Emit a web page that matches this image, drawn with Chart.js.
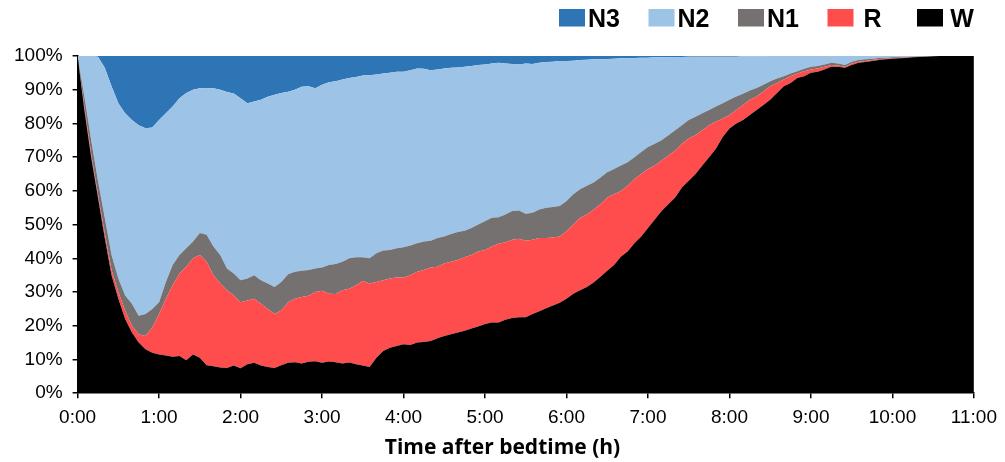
<!DOCTYPE html>
<html>
<head>
<meta charset="utf-8">
<script src="https://cdn.jsdelivr.net/npm/chart.js@4.4.1/dist/chart.umd.min.js"></script>
<style>
  html, body { margin: 0; padding: 0; background: #fff; }
  #wrap { width: 1005px; height: 462px; position: relative; }
</style>
</head>
<body>
<div id="wrap"><canvas id="c" width="1005" height="462"></canvas></div>
<script>
// Time after bedtime, minutes (5-minute bins, 0:00 .. 11:00)
const minutes = Array.from({ length: 133 }, (_, i) => i * 5);
const hourTicks = ['0:00','1:00','2:00','3:00','4:00','5:00','6:00','7:00','8:00','9:00','10:00','11:00'];
const stageNames = ['W', 'R', 'N1', 'N2', 'N3'];
const xTitle = 'Time after bedtime (h)';

// Cumulative levels (%): top edge of W, W+R, W+R+N1, W+R+N1+N2
const wTop = [
  100,84,70,58,46,35,28,22,18,15,13,12,
  11.5,11.2,10.8,11,9.8,11.5,10.5,8.3,8,7.6,7.5,8.2,
  7.4,8.6,9,8.2,7.8,7.5,8.3,9,9.2,8.8,9.3,9.5,
  9,9.4,9.2,8.8,9.1,8.6,8.2,7.8,10.5,12.5,13.5,14,
  14.5,14.3,15,15.2,15.5,16.3,17,17.5,18,18.5,19.2,19.8,
  20.5,21,21,21.8,22.3,22.5,22.5,23.5,24.3,25.2,26,26.8,
  28,29.5,30.5,31.5,32.8,34.5,36.3,38,40.5,42,44.5,46.5,
  49,51.5,54,56,58,61,63,65,67.5,70,72.5,76,
  78.5,80,81,82.5,84,85.5,87,89,91,92,93.5,94,
  95,95.3,96,96.8,96.8,96.5,97.3,98,98.2,98.5,98.8,99,
  99.2,99.3,99.4,99.6,99.7,99.8,99.9,100,100,100,100,100,
  100
];
const rTop = [
  100,85,71,59,47.5,36.5,30,24.5,20,17.5,17,19.5,
  23.5,28,32,35.5,37.5,40,41,39,35,32.5,30.5,29,
  27,27.5,28,26.5,25,23.5,24.5,27,28,28.5,28.9,30,
  30.4,29.5,29.4,30.5,31,32,33.3,32.5,33,33.5,34,34.3,
  34.3,35,36,36.5,37.3,37.5,38.5,39,39.5,40.3,41,42,
  42.5,43.5,44.3,44.8,45.5,45.8,45.2,45.5,46,46,46.2,46.5,
  48,50,52,53,54.5,56,58,59,60,61.5,63.5,65,
  66.5,67.5,69,70.5,72,74,75.5,76.5,78,79.5,80.5,81.5,
  82.5,84,85.5,87,88,89.5,91,92,93,94,94.8,95.5,
  96,96.3,96.8,97.3,97.2,96.8,97.8,98.3,98.5,98.8,99.1,99.2,
  99.4,99.5,99.6,99.7,99.8,99.8,99.9,100,100,100,100,100,
  100
];
const n1Top = [
  100,88,75,63,52,41,34,29,26.5,23,23.5,25,
  27,33,38,41,43,45,47.5,47,43.5,41,37,35.5,
  33.5,34,35,33.5,32.5,31.5,33,35.3,36,36.3,36.5,37,
  37.3,38,38.3,39,40,40.3,40.3,40,41.5,42.3,42.5,43,
  43.3,43.8,44.5,45,45.2,46,46.5,47.2,47.8,48.2,49,50,
  51,52,52.2,53,54,54.2,53.2,53.5,54.5,55,55.2,55.5,
  57,59,60.5,61.5,62.5,64,65.5,66.5,67.5,68.5,70,71.5,
  73,74,75,76.5,78,79.5,81,82,83,84,85,86,
  87,88,88.8,89.8,90.5,91.5,92.5,93.3,94,94.8,95.5,96.2,
  96.8,97,97.5,98,97.8,97.3,98.3,98.8,99,99.2,99.4,99.5,
  99.6,99.7,99.7,99.8,99.9,99.9,100,100,100,100,100,100,
  100
];
const n2Top = [
  100,100,100,99.8,96.5,91,86,83,81,79.5,78.6,78.8,
  81,83,85,87.5,89,90,90.4,90.5,90.4,90,89.3,88.9,
  87.5,86,86.5,87,87.9,88.5,89,89.4,90,90.9,91,90.4,
  91.5,92.2,92.5,93,93.5,93.8,94.2,94.3,94.5,94.8,95,95.3,
  95.3,95.8,96.3,96.2,95.8,96,96.3,96.5,96.6,96.8,97,97.3,
  97.5,97.8,98,97.8,97.6,97.5,97.8,97.6,98,98.2,98.3,98.5,
  98.5,98.6,98.8,98.9,99,99,99.1,99.2,99.3,99.3,99.4,99.5,
  99.5,99.6,99.6,99.6,99.7,99.7,99.8,99.8,99.8,99.8,99.8,99.8,
  99.8,99.8,99.9,99.9,99.9,99.9,100,100,100,100,100,100,
  100,100,100,100,100,100,100,100,100,100,100,100,
  100,100,100,100,100,100,100,100,100,100,100,100,
  100
];

// Stage shares built from the read levels
const W  = wTop.slice();
const R  = rTop.map((v, i) => +(v - wTop[i]).toFixed(2));
const N1 = n1Top.map((v, i) => +(v - rTop[i]).toFixed(2));
const N2 = n2Top.map((v, i) => +(v - n1Top[i]).toFixed(2));
const N3 = n2Top.map(v => +(100 - v).toFixed(2));

const colors = { W: '#000000', R: '#FF4D4D', N1: '#767171', N2: '#9DC3E6', N3: '#2E75B6' };
const series = { W, R, N1, N2, N3 };

const datasets = stageNames.map((name, k) => ({
  label: name,
  data: series[name].map((v, i) => ({ x: minutes[i], y: v })),
  backgroundColor: colors[name],
  borderColor: colors[name],
  borderWidth: 0,
  pointRadius: 0,
  tension: 0,
  fill: k === 0 ? 'origin' : '-1'
}));

const legendPlugin = {
  id: 'topLegend',
  afterDraw(chart) {
    const ctx = chart.ctx;
    const order = ['N3', 'N2', 'N1', 'R', 'W'];
    const start = chart.width - 446;
    ctx.save();
    ctx.font = 'bold 25px "Liberation Sans", Arial, sans-serif';
    ctx.textAlign = 'center';
    ctx.textBaseline = 'alphabetic';
    order.forEach((name, i) => {
      const x = start + i * 89.5;
      ctx.fillStyle = colors[name];
      ctx.fillRect(x, 9, 26, 17.5);
      ctx.fillStyle = '#000';
      ctx.fillText(name, x + 26 + 19, 27);
    });
    // x-axis title, centred on the whole figure as in the original
    ctx.font = 'bold 21px "Open Sans", sans-serif';
    ctx.textBaseline = 'middle';
    ctx.fillText(xTitle, chart.width / 2, 448.5);
    ctx.restore();
  }
};

new Chart(document.getElementById('c'), {
  type: 'line',
  data: { datasets },
  options: {
    responsive: false,
    animation: false,
    events: [],
    layout: { padding: { left: 4, right: 27, top: 56, bottom: 25 } },
    plugins: { legend: { display: false }, tooltip: { enabled: false } },
    elements: { line: { borderWidth: 0 } },
    scales: {
      x: {
        type: 'linear',
        min: 0, max: 660,
        grid: { drawOnChartArea: false, drawTicks: true, tickLength: 5, color: '#000', lineWidth: 1.5 },
        border: { display: true, color: '#000', width: 1.5 },
        ticks: {
          stepSize: 60,
          autoSkip: false,
          maxRotation: 0,
          padding: 8,
          color: '#000',
          font: { family: '"Liberation Sans", Arial, sans-serif', size: 19 },
          callback: (v) => hourTicks[Math.round(v / 60)]
        },
        title: { display: false }
      },
      y: {
        stacked: true,
        min: 0, max: 100,
        grid: { drawOnChartArea: false, drawTicks: true, tickLength: 5, color: '#000', lineWidth: 1.5 },
        border: { display: true, color: '#000', width: 1.5 },
        ticks: {
          stepSize: 10,
          padding: 10,
          color: '#000',
          font: { family: '"Liberation Sans", Arial, sans-serif', size: 19 },
          callback: (v) => v + '%'
        }
      }
    }
  },
  plugins: [legendPlugin]
});
</script>
</body>
</html>
